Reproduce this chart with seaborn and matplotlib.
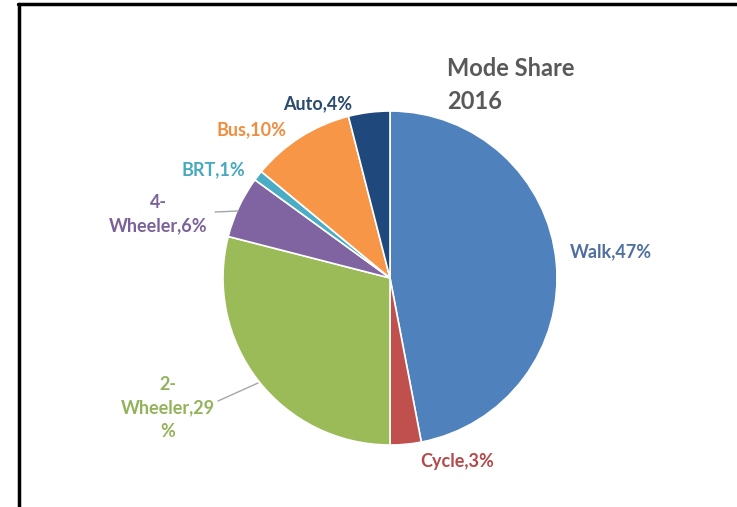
#! /usr/bin/env python3
# imports
import matplotlib
matplotlib.use('Agg')
import matplotlib.pyplot as plt
from matplotlib.lines import Line2D
import seaborn as sns

# data
modes = ['Walk', 'Cycle', '2-\nWheeler', '4-\nWheeler', 'BRT', 'Bus', 'Auto']
shares = [47, 3, 29, 6, 1, 10, 4]
label_texts = ['Walk,47%', 'Cycle,3%', '2-\nWheeler,29\n%', '4-\nWheeler,6%',
               'BRT,1%', 'Bus,10%', 'Auto,4%']
title_text = 'Mode Share\n2016'

# settings
sns.set_style('white')
plt.rcParams['font.family'] = ['Lato', 'DejaVu Sans']
slice_cols = ['#4F81BD', '#C0504D', '#9BBB59', '#8064A2', '#4BACC6', '#F79646', '#1F497D']
label_cols = ['#4F6FA0', '#B5484A', '#93B35A', '#7B6199', '#48A8C0', '#F28C3E', '#2A4A70']
# label centres in pixels (layout only)
label_pos = [(611, 252), (457, 461), (168, 408), (158, 214), (213, 170), (252, 130), (318, 104)]

W, H = 737, 507
fig = plt.figure(figsize=(W / 100, H / 100), dpi=100)
cx, cy, r = 390, 278, 167
ax = fig.add_axes([(cx - r) / W, (H - cy - r) / H, 2 * r / W, 2 * r / H])
ax.pie(shares, colors=slice_cols, startangle=90, counterclock=False, radius=1,
       wedgeprops=dict(edgecolor='white', linewidth=1.2))
ax.set_xlim(-1, 1)
ax.set_ylim(-1, 1)
ax.set_aspect('equal')
ax.axis('off')

for txt, col, (px, py) in zip(label_texts, label_cols, label_pos):
    fig.text(px / W, 1 - py / H, txt, color=col, fontsize=13, fontweight='bold',
             ha='center', va='center', linespacing=1.45)

# leader lines
for (x0, y0), (x1, y1) in [((215, 212), (238, 211)), ((218, 401), (258, 383))]:
    fig.add_artist(Line2D([x0 / W, x1 / W], [1 - y0 / H, 1 - y1 / H],
                          color='#A6A6A6', linewidth=1))

fig.text(447 / W, 1 - 85 / H, title_text, color='#595959', fontsize=17,
         fontweight='bold', ha='left', va='center', linespacing=1.5)

# frame
fig.add_artist(Line2D([18 / W, 1], [1 - 3.5 / H, 1 - 3.5 / H], color='black', linewidth=2.5))
fig.add_artist(Line2D([18.5 / W, 18.5 / W], [0, 1 - 3.5 / H], color='black', linewidth=2.5))

fig.savefig('out.png', dpi=100)
plt.close()
